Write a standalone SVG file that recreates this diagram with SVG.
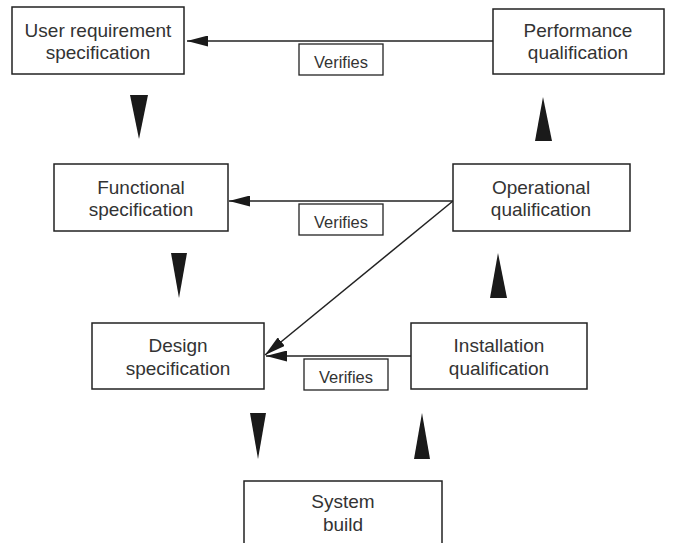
<svg xmlns="http://www.w3.org/2000/svg" width="674" height="543" viewBox="0 0 674 543">
<defs>
<marker id="ah" markerWidth="21" markerHeight="11" refX="21" refY="5.5" orient="auto" markerUnits="userSpaceOnUse">
<path d="M0,0 L21,5.5 L0,11 Z" fill="#1a1a1a"/>
</marker>
</defs>
<style>
.box{fill:#fff;stroke:#222;stroke-width:1.5}
.lbl{fill:#fff;stroke:#222;stroke-width:1.3}
.t{font-family:"Liberation Sans",Arial,sans-serif;font-size:19px;fill:#333;text-anchor:middle}
.v{font-family:"Liberation Sans",Arial,sans-serif;font-size:16.5px;fill:#333;text-anchor:middle}
.c{stroke:#222;stroke-width:1.5;fill:none}
.tri{fill:#1a1a1a}
</style>
<rect width="674" height="543" fill="#fff"/>
<g id="connectors">
<line class="c" x1="493" y1="41" x2="187" y2="41" marker-end="url(#ah)"/>
<line class="c" x1="453" y1="201" x2="229" y2="201" marker-end="url(#ah)"/>
<line class="c" x1="453" y1="201" x2="265" y2="355" marker-end="url(#ah)"/>
<line class="c" x1="411" y1="356" x2="266" y2="356" marker-end="url(#ah)"/>
<polygon class="tri" points="130,95 148,95 139,139"/>
<polygon class="tri" points="171,253 187,253 179,298"/>
<polygon class="tri" points="250,413 266,413 258,459"/>
<polygon class="tri" points="414,459 430,459 422,413"/>
<polygon class="tri" points="490,298 507,298 498,253"/>
<polygon class="tri" points="535,141 552,141 543,97"/>
</g>
<g id="label1"><rect class="lbl" x="299" y="44" width="84" height="31"/><text class="v" x="341" y="68">Verifies</text></g>
<g id="label2"><rect class="lbl" x="299" y="204" width="84" height="31"/><text class="v" x="341" y="228">Verifies</text></g>
<g id="label3"><rect class="lbl" x="304" y="359" width="84" height="31"/><text class="v" x="346" y="383">Verifies</text></g>
<g id="urs"><rect class="box" x="12" y="7" width="172" height="67"/><text class="t" x="98" y="37">User requirement</text><text class="t" x="98" y="59">specification</text></g>
<g id="pq"><rect class="box" x="493" y="9" width="171" height="65"/><text class="t" x="578" y="37">Performance</text><text class="t" x="578" y="59">qualification</text></g>
<g id="fs"><rect class="box" x="54" y="164" width="174" height="67"/><text class="t" x="141" y="194">Functional</text><text class="t" x="141" y="216">specification</text></g>
<g id="oq"><rect class="box" x="453" y="164" width="177" height="67"/><text class="t" x="541" y="194">Operational</text><text class="t" x="541" y="216">qualification</text></g>
<g id="ds"><rect class="box" x="92" y="323" width="172" height="66"/><text class="t" x="178" y="352">Design</text><text class="t" x="178" y="375">specification</text></g>
<g id="iq"><rect class="box" x="411" y="323" width="176" height="66"/><text class="t" x="499" y="352">Installation</text><text class="t" x="499" y="375">qualification</text></g>
<g id="sb"><rect class="box" x="244" y="481" width="198" height="70"/><text class="t" x="343" y="508">System</text><text class="t" x="343" y="531">build</text></g>
</svg>
